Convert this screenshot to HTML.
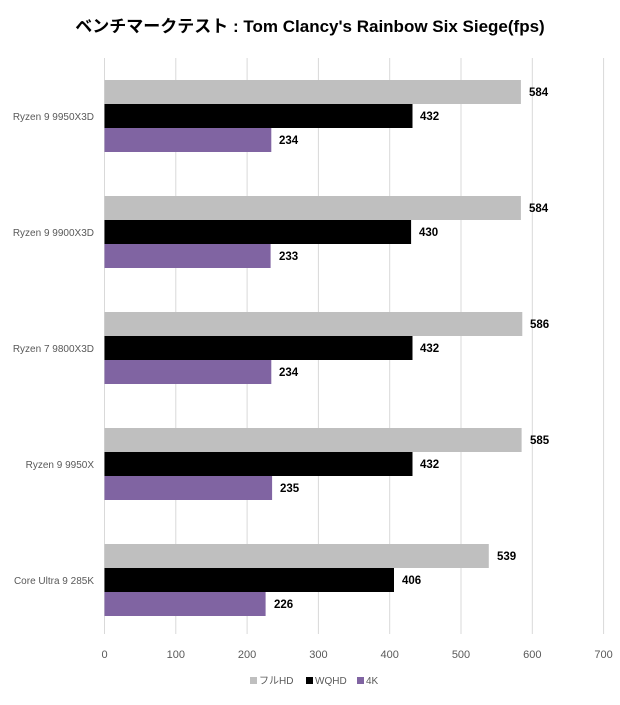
<!DOCTYPE html>
<html><head><meta charset="utf-8"><style>
body{margin:0;background:#fff;}
svg text{font-family:"Liberation Sans","Noto Sans CJK JP",sans-serif;}
</style></head><body>
<svg width="620" height="700" xmlns="http://www.w3.org/2000/svg">
<rect width="620" height="700" fill="#fff"/>
<text x="310" y="32" text-anchor="middle" font-size="17" font-weight="bold" fill="#000">ベンチマークテスト : Tom Clancy's Rainbow Six Siege(fps)</text>
<g stroke="#d9d9d9" stroke-width="1">
<line x1="104.5" y1="58" x2="104.5" y2="634"/>
<line x1="175.8" y1="58" x2="175.8" y2="634"/>
<line x1="247.1" y1="58" x2="247.1" y2="634"/>
<line x1="318.4" y1="58" x2="318.4" y2="634"/>
<line x1="389.7" y1="58" x2="389.7" y2="634"/>
<line x1="461" y1="58" x2="461" y2="634"/>
<line x1="532.3" y1="58" x2="532.3" y2="634"/>
<line x1="603.6" y1="58" x2="603.6" y2="634"/>
</g>
<g font-size="11" fill="#595959" text-anchor="middle">
<text x="104.5" y="658">0</text><text x="175.8" y="658">100</text><text x="247.1" y="658">200</text><text x="318.4" y="658">300</text><text x="389.7" y="658">400</text><text x="461" y="658">500</text><text x="532.3" y="658">600</text><text x="603.6" y="658">700</text>
</g>
<g id="bars" font-size="11.5" font-weight="bold" fill="#000">
<!-- group 1 -->
<rect x="104.5" y="80" width="416.4" height="24" fill="#bfbfbf"/>
<rect x="104.5" y="104" width="308" height="24" fill="#000"/>
<rect x="104.5" y="128" width="166.8" height="24" fill="#8064a2"/>
<text x="529" y="96">584</text><text x="420" y="120">432</text><text x="279" y="144">234</text>
<!-- group 2 -->
<rect x="104.5" y="196" width="416.4" height="24" fill="#bfbfbf"/>
<rect x="104.5" y="220" width="306.6" height="24" fill="#000"/>
<rect x="104.5" y="244" width="166.1" height="24" fill="#8064a2"/>
<text x="529" y="212">584</text><text x="419" y="236">430</text><text x="279" y="260">233</text>
<!-- group 3 -->
<rect x="104.5" y="312" width="417.8" height="24" fill="#bfbfbf"/>
<rect x="104.5" y="336" width="308" height="24" fill="#000"/>
<rect x="104.5" y="360" width="166.8" height="24" fill="#8064a2"/>
<text x="530" y="328">586</text><text x="420" y="352">432</text><text x="279" y="376">234</text>
<!-- group 4 -->
<rect x="104.5" y="428" width="417.1" height="24" fill="#bfbfbf"/>
<rect x="104.5" y="452" width="308" height="24" fill="#000"/>
<rect x="104.5" y="476" width="167.6" height="24" fill="#8064a2"/>
<text x="530" y="444">585</text><text x="420" y="468">432</text><text x="280" y="492">235</text>
<!-- group 5 -->
<rect x="104.5" y="544" width="384.3" height="24" fill="#bfbfbf"/>
<rect x="104.5" y="568" width="289.5" height="24" fill="#000"/>
<rect x="104.5" y="592" width="161.1" height="24" fill="#8064a2"/>
<text x="497" y="560">539</text><text x="402" y="584">406</text><text x="274" y="608">226</text>
</g>
<g font-size="10" fill="#595959" text-anchor="end">
<text x="94" y="120">Ryzen 9 9950X3D</text>
<text x="94" y="236">Ryzen 9 9900X3D</text>
<text x="94" y="352">Ryzen 7 9800X3D</text>
<text x="94" y="468">Ryzen 9 9950X</text>
<text x="94" y="584">Core Ultra 9 285K</text>
</g>
<g font-size="10" fill="#595959">
<rect x="250" y="677" width="7" height="7" fill="#bfbfbf"/><text x="259" y="684">フルHD</text>
<rect x="306" y="677" width="7" height="7" fill="#000"/><text x="315" y="684">WQHD</text>
<rect x="357" y="677" width="7" height="7" fill="#8064a2"/><text x="366" y="684">4K</text>
</g>
</svg>
</body></html>
